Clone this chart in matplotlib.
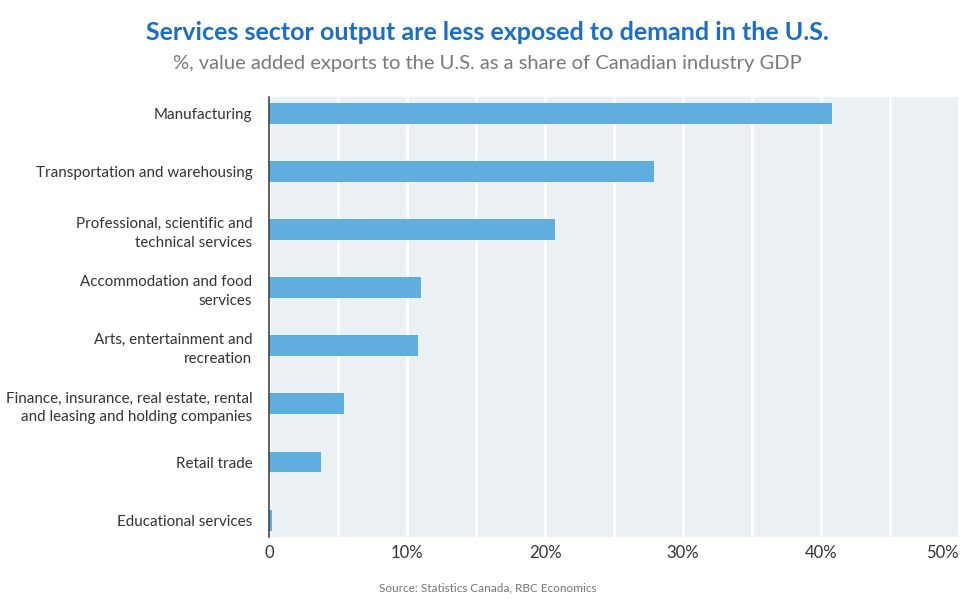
import matplotlib
matplotlib.use('Agg')
import matplotlib.pyplot as plt
import numpy as np

# Dados
setores = ["Manufacturing",
           "Transportation and warehousing",
           "Professional, scientific and\ntechnical services",
           "Accommodation and food\nservices",
           "Arts, entertainment and\nrecreation",
           "Finance, insurance, real estate, rental\nand leasing and holding companies",
           "Retail trade",
           "Educational services"]
valores = [40.8, 27.9, 20.7, 11.0, 10.8, 5.4, 3.8, 0.25]
ticks_x = [0, 10, 20, 30, 40, 50]
rotulos_x = ["0", "10%", "20%", "30%", "40%", "50%"]

plt.rcParams['font.family'] = ['Lato', 'DejaVu Sans']

fig = plt.figure(figsize=(9.75, 5.99), dpi=100)
ax = fig.add_axes([269/975, 1 - 537/599, (959 - 269)/975, (537 - 97)/599])
ax.set_facecolor('#eaf0f3')

y = np.arange(len(setores))
ax.barh(y, valores, height=0.36, color='#60aee0', zorder=3)

ax.set_xlim(0, 50)
ax.set_ylim(len(setores) - 1 + 0.29, -0.28)

# linhas de grade a cada 5%
ax.set_xticks(np.arange(0, 51, 5), minor=True)
ax.grid(True, axis='x', which='both', color='white', linewidth=2, zorder=1)
ax.set_xticks(ticks_x)
ax.set_xticklabels(rotulos_x, fontsize=12, color='#333333')
ax.get_xticklabels()[-1].set_horizontalalignment('right')
ax.set_yticks(y)
ax.set_yticklabels(setores, fontsize=10.9, color='#333333', linespacing=1.45)
ax.tick_params(axis='both', which='both', length=0)
ax.tick_params(axis='x', pad=6)
ax.tick_params(axis='y', pad=12)

for lado in ['top', 'right', 'bottom']:
    ax.spines[lado].set_visible(False)
ax.spines['left'].set_color('#444444')
ax.spines['left'].set_linewidth(1.2)
ax.spines['left'].set_zorder(4)

fig.text(0.5, 1 - 33/599, "Services sector output are less exposed to demand in the U.S.",
         ha='center', va='center', fontsize=18, fontweight='bold', color='#1a6fc4')
fig.text(0.5, 1 - 64/599, "%, value added exports to the U.S. as a share of Canadian industry GDP",
         ha='center', va='center', fontsize=14.5, color='#7a7a7a')
fig.text(0.5, 1 - 588/599, "Source: Statistics Canada, RBC Economics",
         ha='center', va='center', fontsize=8.5, color='#777777')

fig.savefig('out.png', dpi=100)
